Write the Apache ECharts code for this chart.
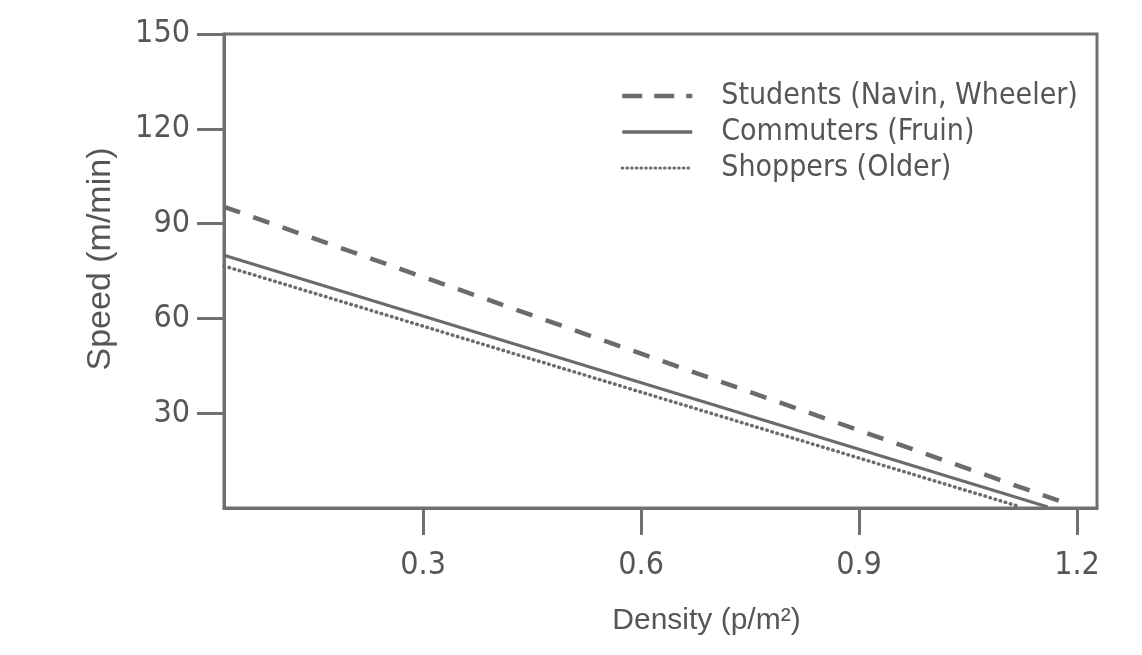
<!DOCTYPE html>
<html>
<head>
<meta charset="utf-8">
<script src="https://cdn.jsdelivr.net/npm/echarts@6/dist/echarts.min.js"></script>
<style>html,body{margin:0;padding:0;background:#fff;}#c{width:1142px;height:655px;}</style>
</head>
<body>
<div id="c"></div>
<script>
const seriesNames = ['Students (Navin, Wheeler)', 'Commuters (Fruin)', 'Shoppers (Older)'];
const studentsDensity = [0.026, 1.18];
const studentsSpeed = [95.3, 1.9];
const commutersDensity = [0.026, 1.16];
const commutersSpeed = [80.0, 0.3];
const shoppersDensity = [0.026, 1.12];
const shoppersSpeed = [76.6, 0.5];
const xTicks = [0.3, 0.6, 0.9, 1.2];
const yTicks = [30, 60, 90, 120, 150];

const pair = (xs, ys) => xs.map((x, i) => [x, ys[i]]);
const narrow = "'Liberation Sans Narrow', 'DejaVu Sans Condensed', sans-serif";
const axisColor = '#707070';
const textColor = '#55565a';
const lineColor = '#6b6b6b';

const chart = echarts.init(document.getElementById('c'));
chart.setOption({
  animation: false,
  backgroundColor: '#fff',
  grid: { left: 224, right: 45, top: 34, bottom: 147, show: true, borderColor: axisColor, borderWidth: 3, backgroundColor: 'transparent' },
  legend: {
    orient: 'vertical', left: 615, top: 74, itemWidth: 70, itemHeight: 14, itemGap: 2,
    itemStyle: { opacity: 0 },
    data: [
      { name: seriesNames[0], lineStyle: { type: [20, 12], width: 4.5, color: lineColor } },
      { name: seriesNames[1], lineStyle: { type: 'solid', width: 3.5, color: lineColor } },
      { name: seriesNames[2], lineStyle: { type: [0.5, 4.2], width: 3.2, cap: 'round', color: lineColor } }
    ],
    textStyle: { fontFamily: narrow, fontSize: 30, color: textColor, padding: [0, 0, 0, 24], lineHeight: 34 }
  },
  xAxis: {
    type: 'value', min: 0.026, max: 1.2275,
    name: 'Density (p/m²)', nameLocation: 'middle', nameGap: 98,
    nameTextStyle: { fontFamily: "'Liberation Sans', Arial, sans-serif", fontSize: 30, color: textColor, padding: [0, 0, 0, 92] },
    axisLine: { show: true, lineStyle: { color: axisColor, width: 3 } },
    axisTick: { show: true, inside: false, length: 27, lineStyle: { color: axisColor, width: 3 }, customValues: xTicks },
    axisLabel: { customValues: xTicks, margin: 42, fontFamily: narrow, fontSize: 32, color: textColor, formatter: v => v.toFixed(1) },
    splitLine: { show: false }
  },
  yAxis: {
    type: 'value', min: 0, max: 150,
    name: 'Speed (m/min)', nameLocation: 'middle', nameGap: 106,
    nameTextStyle: { fontFamily: "'Liberation Sans', Arial, sans-serif", fontSize: 34, color: textColor, padding: [0, 0, 0, 24] },
    axisLine: { show: true, lineStyle: { color: axisColor, width: 3 } },
    axisTick: { show: true, inside: false, length: 27, lineStyle: { color: axisColor, width: 3 }, customValues: yTicks },
    axisLabel: { customValues: yTicks, margin: 34, fontFamily: narrow, fontSize: 32, color: textColor },
    splitLine: { show: false }
  },
  series: [
    { name: seriesNames[0], type: 'line', data: pair(studentsDensity, studentsSpeed), symbol: 'none', lineStyle: { color: lineColor, width: 4.5, type: [17, 14] }, itemStyle: { color: lineColor } },
    { name: seriesNames[1], type: 'line', data: pair(commutersDensity, commutersSpeed), symbol: 'none', lineStyle: { color: lineColor, width: 3, type: 'solid' }, itemStyle: { color: lineColor } },
    { name: seriesNames[2], type: 'line', data: pair(shoppersDensity, shoppersSpeed), symbol: 'none', lineStyle: { color: lineColor, width: 3.5, type: [0.5, 4.8], cap: 'round' }, itemStyle: { color: lineColor } }
  ]
});
</script>
</body>
</html>
